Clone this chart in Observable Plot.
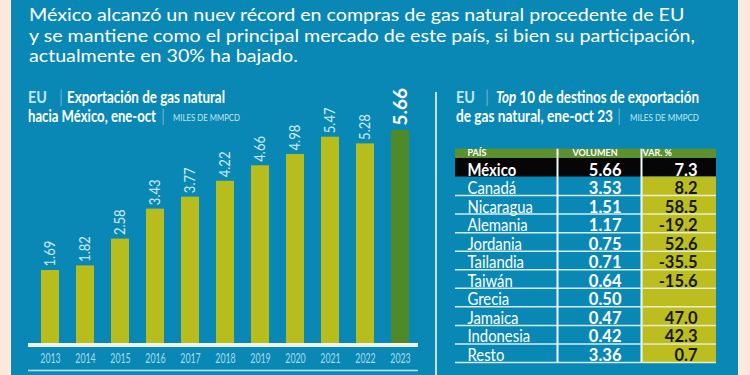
<!DOCTYPE html>
<html><head><meta charset="utf-8">
<script src="https://cdn.jsdelivr.net/npm/d3@7"></script>
<script src="https://cdn.jsdelivr.net/npm/@observablehq/plot@0.6"></script>
<style>
html,body{margin:0;padding:0;background:#fde9dc;}
#wrap{position:relative;width:750px;height:375px;overflow:hidden;background:#fde9dc;font-family:Lato,"Noto Sans",sans-serif;}
#panel{position:absolute;left:11px;top:0;width:727px;height:375px;background:#0a88b5;}
.t{position:absolute;white-space:nowrap;transform-origin:0 0;line-height:1;font-family:Lato,"Noto Sans",sans-serif;}
#divider{position:absolute;left:435px;top:92px;width:1.5px;height:283px;background:#bfe5f0;}
.plotbox{position:absolute;top:0;}
</style></head><body>
<div id="wrap"><div id="panel"></div><div id="divider"></div>
<div id="left" class="plotbox" style="left:0px"></div>
<div id="right" class="plotbox" style="left:440px"></div>
</div>
<script>
// ---------- data ----------
const headline = [
  "México alcanzó un nuev récord en compras de gas natural procedente de EU",
  "y se mantiene como el principal mercado de este país, si bien su participación,",
  "actualmente en 30% ha bajado."
];
const leftTitle = ["EU", "Exportación de gas natural", "hacia México, ene-oct", "MILES DE MMPCD"];
const rightTitle = ["EU", "<i>Top</i> 10 de destinos de exportación", "de gas natural, ene-oct 23", "MILES DE MMPCD"];
const years = ["2013","2014","2015","2016","2017","2018","2019","2020","2021","2022","2023"];
const exportsMx = [1.69, 1.82, 2.58, 3.43, 3.77, 4.22, 4.66, 4.98, 5.47, 5.28, 5.66];
const highlightYear = "2023";
const tableHeaders = ["PAÍS", "VOLUMEN", "VAR. %"];
const countries = ["México","Canadá","Nicaragua","Alemania","Jordania","Tailandia","Taiwán","Grecia","Jamaica","Indonesia","Resto"];
const volumes = [5.66, 3.53, 1.51, 1.17, 0.75, 0.71, 0.64, 0.50, 0.47, 0.42, 3.36];
const variations = [7.3, 8.2, 58.5, -19.2, 52.6, -35.5, -15.6, null, 47.0, 42.3, 0.7];
const highlightCountry = "México";

// ---------- styles / layout ----------
const lime = "#b7bd1c", darkGreen = "#4f8a29", headerGreen = "#5e902c", varYellow = "#bcbe20";
const cyan = "#c3e6f0";
const wrap = document.getElementById("wrap");

function addText(str, o) {
  const el = document.createElement("div");
  el.className = "t";
  el.style.left = o.x + "px";
  el.style.fontSize = o.size + "px";
  el.style.fontWeight = o.weight || 400;
  el.style.color = o.color || "#fff";
  el.style.top = (o.baseline - 0.887 * o.size) + "px";
  el.innerHTML = str;
  wrap.appendChild(el);
  let k = o.scale;
  if (o.width) k = o.width / el.getBoundingClientRect().width;
  if (k) el.style.transform = `scaleX(${k})`;
  return k;
}

// headline: fit the longest line, same factor for all
{
  const k = addText(headline[1], {x: 29, baseline: 42, size: 17, width: 666});
  addText(headline[0], {x: 29, baseline: 21, size: 17, scale: k});
  addText(headline[2], {x: 29, baseline: 62.5, size: 17, scale: k});
}
// panel titles
addText(leftTitle[0], {x: 28, baseline: 103, size: 17, weight: 700, color: cyan, width: 19});
addText("|", {x: 59, baseline: 103, size: 17, weight: 300, color: "#8fd0e3"});
addText(leftTitle[1], {x: 67, baseline: 103, size: 17, weight: 700, width: 158});
addText(leftTitle[2], {x: 28, baseline: 122, size: 17, weight: 700, width: 128});
addText("|", {x: 161, baseline: 122, size: 17, weight: 300, color: "#8fd0e3"});
addText(leftTitle[3], {x: 173, baseline: 121, size: 10, color: cyan, width: 67});

addText(rightTitle[0], {x: 456, baseline: 103, size: 17, weight: 700, color: cyan, width: 19});
addText("|", {x: 485, baseline: 103, size: 17, weight: 300, color: "#8fd0e3"});
addText(rightTitle[1], {x: 496, baseline: 103, size: 17, weight: 700, width: 203});
addText(rightTitle[2], {x: 456, baseline: 122, size: 17, weight: 700, width: 157});
addText("|", {x: 617, baseline: 122, size: 17, weight: 300, color: "#8fd0e3"});
addText(rightTitle[3], {x: 630, baseline: 121, size: 10, color: cyan, width: 69});

// ---------- left: bar chart ----------
const barData = years.map((y, i) => ({year: y, value: exportsMx[i]}));
const barBase = -0.38;
const leftPlot = Plot.plot({
  width: 436, height: 375,
  marginLeft: 21, marginRight: 7, marginTop: 130, marginBottom: 32,
  style: {background: "transparent", fontFamily: "Lato, 'Noto Sans', sans-serif", overflow: "visible"},
  x: {type: "band", domain: years, padding: 0.49, axis: null},
  y: {domain: [barBase, d3.max(exportsMx)], axis: null},
  marks: [
    Plot.barY(barData, {x: "year", y1: barBase, y2: "value", fill: d => d.year === highlightYear ? darkGreen : lime}),
    Plot.ruleY([barBase], {stroke: "#eef3ee", strokeWidth: 4, dy: 1.5, insetLeft: 7, insetRight: 11}),
    Plot.ruleY([barBase], {stroke: "#bfe5f0", strokeWidth: 1.5, dy: 27, insetLeft: 7, insetRight: 11}),
    Plot.text(barData, {x: "year", y: barBase, dy: 15, text: "year", fill: "#a9dbe9", fontSize: 13.5}),
    Plot.text(barData.filter(d => d.year !== highlightYear), {x: "year", y: "value", text: d => d.value.toFixed(2), rotate: -90, textAnchor: "start", dy: -4, fill: "#cdeaf3", fontSize: 14.5}),
    Plot.text(barData.filter(d => d.year === highlightYear), {x: "year", y: "value", text: d => d.value.toFixed(2), rotate: -90, textAnchor: "start", dy: -5, fill: "#ffffff", fontSize: 19, fontWeight: "bold"})
  ]
});
document.getElementById("left").appendChild(leftPlot);

// ---------- right: table ----------
const rows = countries.map((c, i) => ({pais: c, vol: volumes[i], v: variations[i], i}));
const colEdges = [0, 102, 186, 261];
const headerX = [12, 117, 187];
const textX = {pais: 12, vol: 166, v: 242};
const rightPlot = Plot.plot({
  width: 310, height: 375,
  marginLeft: 15, marginRight: 34, marginTop: 148.7, marginBottom: 13,
  style: {background: "transparent", fontFamily: "Lato, 'Noto Sans', sans-serif", overflow: "visible"},
  x: {domain: [colEdges[0], colEdges[3]], axis: null},
  y: {domain: [-0.5, countries.length], reverse: true, axis: null},
  marks: [
    Plot.rect([tableHeaders], {x1: colEdges[0], x2: colEdges[3], y1: -0.5, y2: 0, fill: headerGreen}),
    Plot.rect(rows.filter(d => d.pais === highlightCountry), {x1: colEdges[0], x2: colEdges[3], y1: "i", y2: d => d.i + 1, fill: "#060606"}),
    Plot.rect(rows.filter(d => d.pais !== highlightCountry), {x1: colEdges[2], x2: colEdges[3], y1: "i", y2: d => d.i + 1, fill: varYellow}),
    Plot.ruleY(rows.filter(d => d.pais !== highlightCountry), {y: d => d.i + 1, x1: colEdges[0], x2: colEdges[2], stroke: "#d3ecf3", strokeWidth: 1.5}),
    Plot.ruleY(rows.filter(d => d.pais !== highlightCountry), {y: d => d.i + 1, x1: colEdges[2], x2: colEdges[3], stroke: "#eeeec4", strokeWidth: 1.5}),
    Plot.ruleX([colEdges[1], colEdges[2]], {y1: -0.5, y2: countries.length, stroke: "#f2f9fa", strokeWidth: 2}),
    Plot.text(tableHeaders, {x: (d, i) => headerX[i], y: -0.25, text: d => d, textAnchor: "start", fill: "#ffffff", fontWeight: "bold", fontSize: 9, dy: -0.5}),
    Plot.text(rows.filter(d => d.pais !== highlightCountry), {x: textX.pais, y: d => d.i + 0.5, text: "pais", textAnchor: "start", fill: "#ffffff", fontSize: 16.5, dy: 2.5}),
    Plot.text(rows.filter(d => d.pais === highlightCountry), {x: textX.pais, y: d => d.i + 0.5, text: "pais", textAnchor: "start", fill: "#ffffff", fontSize: 16.5, fontWeight: "bold", dy: 2.5}),
    Plot.text(rows, {x: textX.vol, y: d => d.i + 0.5, text: d => d.vol.toFixed(2), textAnchor: "end", fill: "#ffffff", fontSize: 16.5, fontWeight: "bold", dy: 2.5}),
    Plot.text(rows.filter(d => d.v != null && d.pais !== highlightCountry), {x: textX.v, y: d => d.i + 0.5, text: d => d.v.toFixed(1), textAnchor: "end", fill: "#171717", fontSize: 16.5, fontWeight: "bold", dy: 2.5}),
    Plot.text(rows.filter(d => d.v != null && d.pais === highlightCountry), {x: textX.v, y: d => d.i + 0.5, text: d => d.v.toFixed(1), textAnchor: "end", fill: "#ffffff", fontSize: 16.5, fontWeight: "bold", dy: 2.5})
  ]
});
document.getElementById("right").appendChild(rightPlot);

// condense some text marks (narrow type in the original)
function condense(svg, markIndex, k) {
  const g = svg.querySelectorAll('g[aria-label="text"]')[markIndex];
  if (!g) return;
  g.querySelectorAll("text").forEach(t => {
    const L = t.getComputedTextLength();
    if (L > 0) { t.setAttribute("textLength", (L * k).toFixed(2)); t.setAttribute("lengthAdjust", "spacingAndGlyphs"); }
  });
}
condense(leftPlot, 0, 0.65);
condense(leftPlot, 1, 0.9);
condense(rightPlot, 1, 0.9);
condense(rightPlot, 2, 0.9);
</script>
</body></html>
